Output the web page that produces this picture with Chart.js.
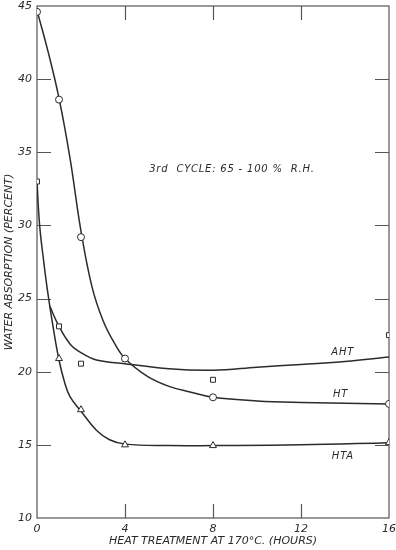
<!DOCTYPE html>
<html><head><meta charset="utf-8">
<script src="https://cdn.jsdelivr.net/npm/chart.js@4.4.1/dist/chart.umd.min.js"></script>
<style>html,body{margin:0;padding:0;background:#fff}#wrap{width:396px;height:550px;position:relative}</style>
</head><body><div id="wrap"><canvas id="c" width="396" height="550"></canvas></div>
<script>
// Axis ticks
const xTicks = [0, 4, 8, 12, 16];
const yTicks = [10, 15, 20, 25, 30, 35, 40, 45];

// Measured points (markers)
const htHours = [0, 1, 2, 4, 8, 16];
const htValues = [44.6, 38.6, 29.2, 20.9, 18.25, 17.8];
const ahtHours = [0, 1, 2, 8, 16];
const ahtValues = [33.0, 23.1, 20.55, 19.45, 22.5];
const htaHours = [1, 2, 4, 8, 16];
const htaValues = [20.9, 17.4, 15.0, 14.95, 15.15];

// Hand-drawn fitted curves
const htCurveHours = [0, 0.5, 1, 1.5, 2, 2.5, 3, 3.5, 4, 5, 6, 7, 8, 10, 12, 16];
const htCurveValues = [44.7, 41.9, 38.7, 34.6, 29.6, 25.8, 23.5, 22.0, 20.9, 19.7, 19.0, 18.6, 18.25, 18.0, 17.9, 17.8];
const ahtCurveHours = [0.59, 1, 1.5, 2, 2.7, 4, 6, 8, 10, 12, 14, 16];
const ahtCurveValues = [24.45, 23.1, 21.9, 21.3, 20.8, 20.55, 20.2, 20.1, 20.3, 20.5, 20.7, 21.0];
const htaCurveHours = [0, 0.12, 0.3, 0.5, 0.75, 1, 1.25, 1.5, 2, 2.7, 3.3, 4, 6, 8, 12, 16];
const htaCurveValues = [33.0, 30.0, 27.6, 25.3, 22.9, 20.8, 19.3, 18.3, 17.3, 16.0, 15.35, 15.05, 14.95, 14.95, 15.0, 15.15];

const seriesNames = ['AHT', 'HT', 'HTA'];
const annotation = '3rd  CYCLE: 65 - 100 %  R.H.';

const zip = (xs, ys) => xs.map((x, i) => ({x: x, y: ys[i]}));
const INK = '#2b2b2b';
const FONT = 'DejaVu Sans';

const curve = (xs, ys) => ({
  type: 'line', data: zip(xs, ys), borderColor: INK, borderWidth: 1.5,
  pointRadius: 0, fill: false, tension: 0.4, order: 2
});
const marks = (xs, ys, style, r) => ({
  type: 'scatter', data: zip(xs, ys), showLine: false, pointStyle: style,
  pointRadius: r, pointBackgroundColor: '#fff', pointBorderColor: INK, pointBorderWidth: 1, order: 1
});

const frame = {
  id: 'frame',
  beforeDatasetsDraw(chart) {
    const {ctx, chartArea: a, scales: {x, y}} = chart;
    ctx.save();
    ctx.strokeStyle = '#555';
    ctx.lineWidth = 1.2;
    ctx.strokeRect(a.left, a.top, a.right - a.left, a.bottom - a.top);
    const L = 14;
    ctx.beginPath();
    xTicks.forEach(v => {
      if (v <= x.min || v >= x.max) return;
      const px = Math.round(x.getPixelForValue(v)) + 0.5;
      ctx.moveTo(px, a.bottom); ctx.lineTo(px, a.bottom - L);
      ctx.moveTo(px, a.top); ctx.lineTo(px, a.top + L);
    });
    yTicks.forEach(v => {
      if (v <= y.min || v >= y.max) return;
      const py = Math.round(y.getPixelForValue(v)) + 0.5;
      ctx.moveTo(a.left, py); ctx.lineTo(a.left + L, py);
      ctx.moveTo(a.right, py); ctx.lineTo(a.right - L, py);
    });
    ctx.stroke();
    ctx.restore();
  },
  afterDatasetsDraw(chart) {
    const {ctx, scales: {x, y}} = chart;
    ctx.save();
    ctx.fillStyle = INK;
    ctx.font = 'italic 10px "' + FONT + '"';
    ctx.textBaseline = 'middle';
    ctx.textAlign = 'left';
    ctx.letterSpacing = '0.8px';
    ctx.fillText(annotation, x.getPixelForValue(5.1), y.getPixelForValue(33.8));
    ctx.textAlign = 'center';
    ctx.fillText(seriesNames[0], x.getPixelForValue(13.9), y.getPixelForValue(21.3));
    ctx.fillText(seriesNames[1], x.getPixelForValue(13.8), y.getPixelForValue(18.43));
    ctx.fillText(seriesNames[2], x.getPixelForValue(13.9), y.getPixelForValue(14.2));
    ctx.restore();
  }
};

new Chart(document.getElementById('c'), {
  data: {
    datasets: [
      curve(htCurveHours, htCurveValues),
      curve(ahtCurveHours, ahtCurveValues),
      curve(htaCurveHours, htaCurveValues),
      marks(htHours, htValues, 'circle', 3.5),
      marks(ahtHours, ahtValues, 'rect', 3.5),
      marks(htaHours, htaValues, 'triangle', 4)
    ]
  },
  options: {
    responsive: false, animation: false, devicePixelRatio: 1,
    layout: {padding: {top: 0, right: 0, left: 0, bottom: 0}},
    plugins: {legend: {display: false}, tooltip: {enabled: false}},
    scales: {
      x: {
        type: 'linear', min: 0, max: 16,
        afterBuildTicks: s => { s.ticks = xTicks.map(v => ({value: v})); },
        afterFit: s => { s.height = 32; s.paddingLeft = 0; s.paddingRight = 7; },
        grid: {display: false, drawTicks: false}, border: {display: false},
        ticks: {padding: 5, color: INK, font: {family: FONT, size: 11, style: 'italic'}},
        title: {display: true, text: 'HEAT TREATMENT AT 170°C. (HOURS)', color: INK,
          padding: {top: 0, bottom: 2}, font: {family: FONT, size: 11, style: 'italic'}}
      },
      y: {
        type: 'linear', min: 10, max: 45,
        afterBuildTicks: s => { s.ticks = yTicks.map(v => ({value: v})); },
        afterFit: s => { s.width = 37; s.paddingTop = 6; s.paddingBottom = 0; },
        grid: {display: false, drawTicks: false}, border: {display: false},
        ticks: {padding: 5, color: INK, font: {family: FONT, size: 11, style: 'italic'}},
        title: {display: true, text: 'WATER ABSORPTION (PERCENT)', color: INK,
          padding: {top: 3, bottom: 0}, font: {family: FONT, size: 11, style: 'italic'}}
      }
    }
  },
  plugins: [frame]
});
</script>
</body></html>
